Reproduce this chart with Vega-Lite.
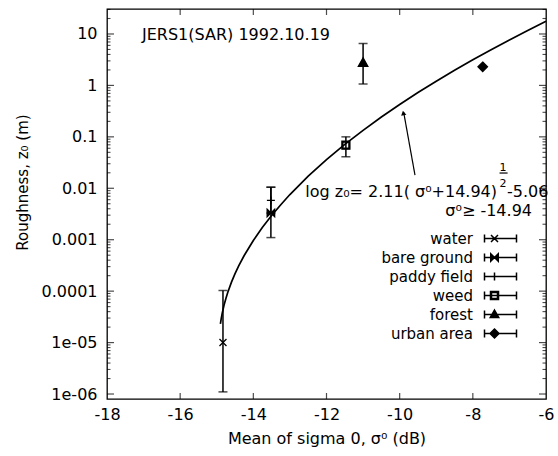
{
  "$schema": "https://vega.github.io/schema/vega-lite/v6.json",
  "width": 439,
  "height": 390,
  "autosize": {"type": "none"},
  "padding": {"left": 107, "top": 9, "right": 12, "bottom": 57},
  "background": "white",
  "config": {
    "font": "DejaVu Sans",
    "view": {"stroke": "black", "strokeWidth": 1.3},
    "axis": {
      "grid": false,
      "domain": false,
      "labelColor": "black",
      "labelFont": "DejaVu Sans",
      "labelFontSize": 16,
      "titleColor": "black",
      "titleFont": "DejaVu Sans",
      "titleFontSize": 16,
      "titleFontWeight": "normal"
    },
    "legend": {
      "orient": "none",
      "legendX": 380,
      "legendY": 222,
      "padding": 0,
      "labelFont": "DejaVu Sans",
      "labelFontSize": 15,
      "labelColor": "black",
      "labelAlign": "right",
      "labelOffset": -29,
      "rowPadding": 3,
      "symbolSize": 100
    }
  },
  "datasets": {
    "curve": [
      {"sigma": -14.9, "z0": 2.30e-5},
      {"sigma": -14.88, "z0": 2.86e-5},
      {"sigma": -14.85, "z0": 3.74e-5},
      {"sigma": -14.8, "z0": 5.36e-5},
      {"sigma": -14.75, "z0": 7.2e-5},
      {"sigma": -14.7, "z0": 9.41e-5},
      {"sigma": -14.6, "z0": 1.48e-4},
      {"sigma": -14.5, "z0": 2.19e-4},
      {"sigma": -14.4, "z0": 3.09e-4},
      {"sigma": -14.25, "z0": 4.93e-4},
      {"sigma": -14.0, "z0": 9.67e-4},
      {"sigma": -13.75, "z0": 1.745e-3},
      {"sigma": -13.5, "z0": 2.96e-3},
      {"sigma": -13.25, "z0": 4.79e-3},
      {"sigma": -13.0, "z0": 7.56e-3},
      {"sigma": -12.5, "z0": 0.0172},
      {"sigma": -12.0, "z0": 0.0361},
      {"sigma": -11.5, "z0": 0.0714},
      {"sigma": -11.0, "z0": 0.134},
      {"sigma": -10.5, "z0": 0.243},
      {"sigma": -10.0, "z0": 0.426},
      {"sigma": -9.5, "z0": 0.727},
      {"sigma": -9.0, "z0": 1.209},
      {"sigma": -8.5, "z0": 1.970},
      {"sigma": -8.0, "z0": 3.152},
      {"sigma": -7.5, "z0": 4.958},
      {"sigma": -7.0, "z0": 7.68},
      {"sigma": -6.5, "z0": 11.75},
      {"sigma": -6.0, "z0": 17.74}
    ],
    "obs": [
      {"type": "water", "sigma": -14.83, "z": 1.0e-5, "lo": 1.1e-6, "hi": 1.03e-4},
      {"type": "bare ground", "sigma": -13.52, "z": 0.0033, "lo": 0.0011, "hi": 0.0105},
      {"type": "paddy field", "sigma": -13.52, "z": 0.0058, "lo": 0.0033, "hi": 0.0105},
      {"type": "weed", "sigma": -11.47, "z": 0.069, "lo": 0.041, "hi": 0.1},
      {"type": "forest", "sigma": -11.0, "z": 2.75, "lo": 1.07, "hi": 6.5},
      {"type": "urban area", "sigma": -7.73, "z": 2.3}
    ],
    "ticks": [
      {"dim": "x", "kind": "major", "v": -16}, {"dim": "x", "kind": "major", "v": -14},
      {"dim": "x", "kind": "major", "v": -12}, {"dim": "x", "kind": "major", "v": -10},
      {"dim": "x", "kind": "major", "v": -8},
      {"dim": "y", "kind": "major", "v": 1e-6}, {"dim": "y", "kind": "major", "v": 1e-5},
      {"dim": "y", "kind": "major", "v": 1e-4}, {"dim": "y", "kind": "major", "v": 1e-3},
      {"dim": "y", "kind": "major", "v": 0.01}, {"dim": "y", "kind": "major", "v": 0.1},
      {"dim": "y", "kind": "major", "v": 1}, {"dim": "y", "kind": "major", "v": 10},
      {"dim": "y", "kind": "minor", "v": 2e-6}, {"dim": "y", "kind": "minor", "v": 3e-6},
      {"dim": "y", "kind": "minor", "v": 4e-6}, {"dim": "y", "kind": "minor", "v": 5e-6},
      {"dim": "y", "kind": "minor", "v": 6e-6}, {"dim": "y", "kind": "minor", "v": 7e-6},
      {"dim": "y", "kind": "minor", "v": 8e-6}, {"dim": "y", "kind": "minor", "v": 9e-6},
      {"dim": "y", "kind": "minor", "v": 2e-5}, {"dim": "y", "kind": "minor", "v": 3e-5},
      {"dim": "y", "kind": "minor", "v": 4e-5}, {"dim": "y", "kind": "minor", "v": 5e-5},
      {"dim": "y", "kind": "minor", "v": 6e-5}, {"dim": "y", "kind": "minor", "v": 7e-5},
      {"dim": "y", "kind": "minor", "v": 8e-5}, {"dim": "y", "kind": "minor", "v": 9e-5},
      {"dim": "y", "kind": "minor", "v": 2e-4}, {"dim": "y", "kind": "minor", "v": 3e-4},
      {"dim": "y", "kind": "minor", "v": 4e-4}, {"dim": "y", "kind": "minor", "v": 5e-4},
      {"dim": "y", "kind": "minor", "v": 6e-4}, {"dim": "y", "kind": "minor", "v": 7e-4},
      {"dim": "y", "kind": "minor", "v": 8e-4}, {"dim": "y", "kind": "minor", "v": 9e-4},
      {"dim": "y", "kind": "minor", "v": 0.002}, {"dim": "y", "kind": "minor", "v": 0.003},
      {"dim": "y", "kind": "minor", "v": 0.004}, {"dim": "y", "kind": "minor", "v": 0.005},
      {"dim": "y", "kind": "minor", "v": 0.006}, {"dim": "y", "kind": "minor", "v": 0.007},
      {"dim": "y", "kind": "minor", "v": 0.008}, {"dim": "y", "kind": "minor", "v": 0.009},
      {"dim": "y", "kind": "minor", "v": 0.02}, {"dim": "y", "kind": "minor", "v": 0.03},
      {"dim": "y", "kind": "minor", "v": 0.04}, {"dim": "y", "kind": "minor", "v": 0.05},
      {"dim": "y", "kind": "minor", "v": 0.06}, {"dim": "y", "kind": "minor", "v": 0.07},
      {"dim": "y", "kind": "minor", "v": 0.08}, {"dim": "y", "kind": "minor", "v": 0.09},
      {"dim": "y", "kind": "minor", "v": 0.2}, {"dim": "y", "kind": "minor", "v": 0.3},
      {"dim": "y", "kind": "minor", "v": 0.4}, {"dim": "y", "kind": "minor", "v": 0.5},
      {"dim": "y", "kind": "minor", "v": 0.6}, {"dim": "y", "kind": "minor", "v": 0.7},
      {"dim": "y", "kind": "minor", "v": 0.8}, {"dim": "y", "kind": "minor", "v": 0.9},
      {"dim": "y", "kind": "minor", "v": 2}, {"dim": "y", "kind": "minor", "v": 3},
      {"dim": "y", "kind": "minor", "v": 4}, {"dim": "y", "kind": "minor", "v": 5},
      {"dim": "y", "kind": "minor", "v": 6}, {"dim": "y", "kind": "minor", "v": 7},
      {"dim": "y", "kind": "minor", "v": 8}, {"dim": "y", "kind": "minor", "v": 9},
      {"dim": "y", "kind": "minor", "v": 20}, {"dim": "y", "kind": "minor", "v": 30}
    ]
  },
  "layer": [
    {
      "data": {"name": "curve"},
      "mark": {"type": "line", "color": "black", "strokeWidth": 1.7},
      "encoding": {
        "x": {
          "field": "sigma", "type": "quantitative",
          "scale": {"domain": [-18, -6], "nice": false, "zero": false},
          "axis": {
            "orient": "bottom", "values": [-18, -16, -14, -12, -10, -8, -6],
            "offset": -6, "tickSize": 6, "tickOpacity": 0,
            "labelPadding": 7, "labelFlush": false,
            "labelExpr": "'' + datum.value",
            "title": "Mean of sigma 0, σ⁰ (dB)", "titlePadding": 8
          }
        },
        "y": {
          "field": "z0", "type": "quantitative",
          "scale": {"type": "log", "domain": [8e-7, 30.6], "nice": false},
          "axis": {
            "orient": "left",
            "values": [1e-6, 1e-5, 1e-4, 1e-3, 0.01, 0.1, 1, 10],
            "offset": -7, "tickSize": 7, "tickOpacity": 0,
            "labelPadding": 10,
            "labelExpr": "datum.value < 5e-5 ? replace(format(datum.value, '.0e'), 'e-', 'e-0') : format(datum.value, '~g')",
            "title": "Roughness, z₀ (m)", "titleFontSize": 15,
            "titleAngle": 270, "titleAlign": "center", "titleBaseline": "alphabetic",
            "titleX": -87, "titleY": 173
          }
        }
      }
    },
    {
      "data": {"name": "ticks"},
      "transform": [{"filter": "datum.dim == 'y' && datum.kind == 'major'"}],
      "mark": {"type": "tick", "orient": "horizontal", "color": "black", "size": 7, "thickness": 1.2, "xOffset": 3.5},
      "encoding": {
        "x": {"datum": -18, "axis": null},
        "y": {"field": "v", "type": "quantitative", "axis": null}
      }
    },
    {
      "data": {"name": "ticks"},
      "transform": [{"filter": "datum.dim == 'y' && datum.kind == 'minor'"}],
      "mark": {"type": "tick", "orient": "horizontal", "color": "black", "size": 3.5, "thickness": 1.1, "xOffset": 1.75},
      "encoding": {
        "x": {"datum": -18, "axis": null},
        "y": {"field": "v", "type": "quantitative", "axis": null}
      }
    },
    {
      "data": {"name": "ticks"},
      "transform": [{"filter": "datum.dim == 'y' && datum.kind == 'major'"}],
      "mark": {"type": "tick", "orient": "horizontal", "color": "black", "size": 7, "thickness": 1.2, "xOffset": -3.5},
      "encoding": {
        "x": {"datum": -6, "axis": null},
        "y": {"field": "v", "type": "quantitative", "axis": null}
      }
    },
    {
      "data": {"name": "ticks"},
      "transform": [{"filter": "datum.dim == 'y' && datum.kind == 'minor'"}],
      "mark": {"type": "tick", "orient": "horizontal", "color": "black", "size": 3.5, "thickness": 1.1, "xOffset": -1.75},
      "encoding": {
        "x": {"datum": -6, "axis": null},
        "y": {"field": "v", "type": "quantitative", "axis": null}
      }
    },
    {
      "data": {"name": "ticks"},
      "transform": [{"filter": "datum.dim == 'x'"}],
      "mark": {"type": "tick", "orient": "vertical", "color": "black", "size": 6, "thickness": 1.2, "yOffset": -3},
      "encoding": {
        "x": {"field": "v", "type": "quantitative", "axis": null},
        "y": {"datum": 8e-7, "axis": null}
      }
    },
    {
      "data": {"name": "ticks"},
      "transform": [{"filter": "datum.dim == 'x'"}],
      "mark": {"type": "tick", "orient": "vertical", "color": "black", "size": 6, "thickness": 1.2, "yOffset": 3},
      "encoding": {
        "x": {"field": "v", "type": "quantitative", "axis": null},
        "y": {"datum": 30.6, "axis": null}
      }
    },
    {
      "data": {"name": "obs"},
      "transform": [{"filter": "isValid(datum.lo)"}],
      "mark": {"type": "rule", "color": "black", "strokeWidth": 1.5},
      "encoding": {
        "x": {"field": "sigma", "type": "quantitative", "axis": null},
        "y": {"field": "lo", "type": "quantitative", "axis": null},
        "y2": {"field": "hi"}
      }
    },
    {
      "data": {"name": "obs"},
      "transform": [
        {"filter": "isValid(datum.lo)"},
        {"fold": ["lo", "hi"], "as": ["end", "val"]}
      ],
      "mark": {"type": "tick", "orient": "horizontal", "color": "black", "size": 9, "thickness": 1.5},
      "encoding": {
        "x": {"field": "sigma", "type": "quantitative", "axis": null},
        "y": {"field": "val", "type": "quantitative", "axis": null}
      }
    },
    {
      "data": {"name": "obs"},
      "mark": {"type": "point", "filled": true, "fill": "black", "stroke": "black", "strokeWidth": 1.3, "opacity": 1, "size": 100},
      "encoding": {
        "x": {"field": "sigma", "type": "quantitative", "axis": null},
        "y": {"field": "z", "type": "quantitative", "axis": null},
        "shape": {
          "field": "type", "type": "nominal",
          "scale": {
            "domain": ["water", "bare ground", "paddy field", "weed", "forest", "urban area"],
            "range": [
              "M-0.7,-0.7L0.7,0.7M-0.7,0.7L0.7,-0.7",
              "M-0.75,-0.75L0.75,0.75L0.75,-0.75L-0.75,0.75Z",
              "M-0.8,0L0.8,0M0,-0.8L0,0.8",
              "M-0.8,-0.8L0.8,-0.8L0.8,0.8L-0.8,0.8ZM-0.6,-0.6L-0.6,0.6L0.6,0.6L0.6,-0.6Z",
              "M0,-1L0.95,0.7L-0.95,0.7Z",
              "M0,-0.95L0.95,0L0,0.95L-0.95,0Z"
            ]
          },
          "legend": null
        }
      }
    },
    {
      "data": {"name": "obs"},
      "mark": {"type": "point", "filled": true, "fill": "black", "stroke": "black", "opacity": 0},
      "encoding": {
        "x": {"field": "sigma", "type": "quantitative", "axis": null},
        "y": {"field": "z", "type": "quantitative", "axis": null},
        "shape": {
          "field": "type", "type": "nominal",
          "scale": {
            "domain": ["water", "bare ground", "paddy field", "weed", "forest", "urban area"],
            "range": [
              "M-2,-0.8L-2,0.8M-2,0L4.4,0M4.4,-0.8L4.4,0.8M-0.7,-0.7L0.7,0.7M-0.7,0.7L0.7,-0.7",
              "M-2,-0.8L-2,0.8M-2,0L4.4,0M4.4,-0.8L4.4,0.8M-0.75,-0.75L0.75,0.75L0.75,-0.75L-0.75,0.75Z",
              "M-2,-0.8L-2,0.8M-2,0L4.4,0M4.4,-0.8L4.4,0.8M0,-0.8L0,0.8",
              "M-2,-0.8L-2,0.8M-2,0L4.4,0M4.4,-0.8L4.4,0.8M-0.8,-0.8L0.8,-0.8L0.8,0.8L-0.8,0.8ZM-0.6,-0.6L-0.6,0.6L0.6,0.6L0.6,-0.6Z",
              "M-2,-0.8L-2,0.8M-2,0L4.4,0M4.4,-0.8L4.4,0.8M0,-0.9L0.85,0.6L-0.85,0.6Z",
              "M-2,-0.8L-2,0.8M-2,0L4.4,0M4.4,-0.8L4.4,0.8M0,-0.9L0.9,0L0,0.9L-0.9,0Z"
            ]
          },
          "legend": {
            "title": null,
            "encode": {
              "symbols": {
                "update": {
                  "fill": {"value": "black"},
                  "stroke": {"value": "black"},
                  "strokeWidth": {"value": 1.3},
                  "opacity": {"value": 1},
                  "fillOpacity": {"value": 1},
                  "strokeOpacity": {"value": 1}
                }
              }
            }
          }
        }
      }
    },
    {
      "data": {"values": [{}]},
      "mark": {"type": "text", "align": "left", "baseline": "alphabetic", "fontSize": 16, "color": "black"},
      "encoding": {
        "x": {"datum": -17.043, "axis": null},
        "y": {"datum": 7.64, "axis": null},
        "text": {"value": "JERS1(SAR) 1992.10.19"}
      }
    },
    {
      "data": {"values": [{}]},
      "mark": {"type": "text", "align": "right", "baseline": "alphabetic", "fontSize": 16, "color": "black"},
      "encoding": {
        "x": {"datum": -7.339, "axis": null},
        "y": {"datum": 0.00676, "axis": null},
        "text": {"value": "log z₀= 2.11( σ⁰+14.94)"}
      }
    },
    {
      "data": {"values": [{}]},
      "mark": {"type": "text", "align": "center", "baseline": "alphabetic", "fontSize": 11, "color": "black"},
      "encoding": {
        "x": {"datum": -7.175, "axis": null},
        "y": {"datum": 0.0217, "axis": null},
        "text": {"value": "1"}
      }
    },
    {
      "data": {"values": [{}]},
      "mark": {"type": "rule", "color": "black", "strokeWidth": 1.2},
      "encoding": {
        "x": {"datum": -7.27, "axis": null},
        "x2": {"datum": -7.05},
        "y": {"datum": 0.0198, "axis": null}
      }
    },
    {
      "data": {"values": [{}]},
      "mark": {"type": "text", "align": "center", "baseline": "alphabetic", "fontSize": 11, "color": "black"},
      "encoding": {
        "x": {"datum": -7.175, "axis": null},
        "y": {"datum": 0.0106, "axis": null},
        "text": {"value": "2"}
      }
    },
    {
      "data": {"values": [{}]},
      "mark": {"type": "text", "align": "left", "baseline": "alphabetic", "fontSize": 16, "color": "black"},
      "encoding": {
        "x": {"datum": -7.066, "axis": null},
        "y": {"datum": 0.00676, "axis": null},
        "text": {"value": "-5.06"}
      }
    },
    {
      "data": {"values": [{}]},
      "mark": {"type": "text", "align": "right", "baseline": "alphabetic", "fontSize": 16, "color": "black"},
      "encoding": {
        "x": {"datum": -6.383, "axis": null},
        "y": {"datum": 0.00289, "axis": null},
        "text": {"value": "σ⁰≥ -14.94"}
      }
    },
    {
      "data": {"values": [{}]},
      "mark": {"type": "rule", "color": "black", "strokeWidth": 1.2},
      "encoding": {
        "x": {"datum": -9.581, "axis": null},
        "x2": {"datum": -9.89},
        "y": {"datum": 0.0181, "axis": null},
        "y2": {"datum": 0.30}
      }
    },
    {
      "data": {"values": [{}]},
      "mark": {"type": "point", "shape": "triangle-up", "filled": true, "color": "black", "size": 28, "angle": 349, "opacity": 1},
      "encoding": {
        "x": {"datum": -9.9, "axis": null},
        "y": {"datum": 0.29, "axis": null}
      }
    }
  ],
  "resolve": {
    "axis": {"x": "independent", "y": "independent"},
    "scale": {"shape": "independent"}
  }
}
